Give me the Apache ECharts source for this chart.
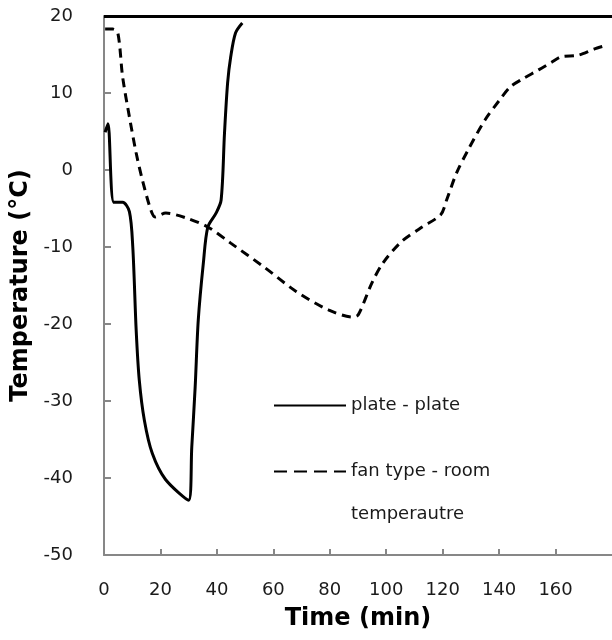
<!DOCTYPE html>
<html>
<head>
<meta charset="utf-8">
<script src="https://cdn.jsdelivr.net/npm/echarts@6/dist/echarts.min.js"></script>
<style>
  html, body { margin: 0; padding: 0; background: #fff; }
  #chart { width: 612px; height: 640px; }
</style>
</head>
<body>
<div id="chart"></div>
<script>
// plate - plate (solid)
const plateTime = [0.4, 1.4, 3.5, 6.6, 9.0, 10.2, 11.4, 12.5, 14.3, 17.1, 21.8, 30.0, 31.1, 32.3, 33.4, 35.2, 36.8, 39.7, 41.5, 42.7, 43.8, 44.9, 46.6, 49.0]
const plateTemp = [4.9, 6.0, -4.2, -4.2, -5.4, -10.0, -20.8, -27.3, -32.5, -36.8, -40.2, -42.9, -36.0, -28.2, -19.5, -12.1, -7.4, -5.6, -3.9, 4.8, 11.3, 14.7, 17.8, 19.1]

// fan type - room temperautre (dashed)
const fanTime = [0.4, 3.1, 4.9, 6.6, 9.0, 11.4, 13.6, 16.6, 18.1, 21.9, 28.9, 36.8, 44.9, 56.7, 68.2, 79.7, 88.3, 90.1, 94.9, 98.8, 105.4, 112.3, 119.3, 121.4, 124.9, 129.0, 135.0, 140.0, 144.0, 148.2, 154.0, 158.6, 162.0, 168.0, 173.6, 178.0]
const fanTemp = [18.3, 18.3, 17.8, 12.1, 6.9, 2.2, -1.3, -5.2, -6.1, -5.6, -6.2, -7.4, -9.5, -12.6, -15.8, -18.2, -19.1, -18.8, -14.7, -12.1, -9.3, -7.5, -5.8, -3.9, -0.4, 2.6, 6.5, 9.0, 10.8, 11.8, 13.0, 14.0, 14.7, 14.9, 15.7, 16.2]

const seriesNames = ['plate - plate', 'fan type - room\ntemperautre']

const pair = (xs, ys) => xs.map((x, i) => [x, ys[i]])

const font = '"DejaVu Sans", "Noto Sans", sans-serif'
const axisGrey = '#878787'

const legendBase = {
  left: 273,
  padding: 0,
  itemWidth: 72,
  itemHeight: 14,
  itemStyle: { opacity: 0 },
  textStyle: { fontSize: 18, color: '#1a1a1a', fontFamily: font, lineHeight: 43 }
}

const chart = echarts.init(document.getElementById('chart'))
chart.setOption({
  animation: false,
  textStyle: { fontFamily: font },
  grid: { left: 104, top: 16, right: -9, bottom: 85 },
  legend: [
    Object.assign({}, legendBase, {
      data: [seriesNames[0]],
      top: 384
    }),
    Object.assign({}, legendBase, {
      data: [seriesNames[1]],
      top: 407,
      lineStyle: { type: [13, 7] },
      // blank first line keeps the icon level with "fan type - room"
      formatter: name => '\n' + name
    })
  ],
  xAxis: {
    type: 'value',
    min: 0,
    max: 180,
    interval: 20,
    name: 'Time (min)',
    nameLocation: 'middle',
    nameGap: 52,
    nameTextStyle: { fontSize: 24, fontWeight: 'bold', color: '#000', fontFamily: font },
    axisLine: { show: true, onZero: false, lineStyle: { color: axisGrey, width: 2 } },
    axisTick: { show: true, inside: true, length: 6, lineStyle: { color: axisGrey, width: 2 } },
    axisLabel: { fontSize: 18, color: '#1a1a1a', margin: 26, showMaxLabel: false },
    splitLine: { show: false }
  },
  yAxis: {
    type: 'value',
    min: -50,
    max: 20,
    interval: 10,
    name: 'Temperature (°C)',
    nameLocation: 'middle',
    nameGap: 66,
    nameTextStyle: { fontSize: 24, fontWeight: 'bold', color: '#000', fontFamily: font },
    axisLine: { show: true, onZero: false, lineStyle: { color: axisGrey, width: 2 } },
    axisTick: { show: true, inside: true, length: 7, lineStyle: { color: axisGrey, width: 2 } },
    axisLabel: { fontSize: 18, color: '#1a1a1a', margin: 31 },
    splitLine: { show: false }
  },
  series: [
    {
      name: seriesNames[0],
      type: 'line',
      data: pair(plateTime, plateTemp),
      smooth: 0.3,
      symbol: 'none',
      lineStyle: { color: '#000', width: 3 },
      itemStyle: { color: '#000' },
      markLine: {
        silent: true,
        symbol: 'none',
        label: { show: false },
        lineStyle: { color: '#000', width: 3, type: 'solid' },
        data: [{ yAxis: 20 }]
      }
    },
    {
      name: seriesNames[1],
      type: 'line',
      data: pair(fanTime, fanTemp),
      smooth: 0.3,
      symbol: 'none',
      lineStyle: { color: '#000', width: 3, type: [9, 6] },
      itemStyle: { color: '#000' }
    }
  ]
})
</script>
</body>
</html>
